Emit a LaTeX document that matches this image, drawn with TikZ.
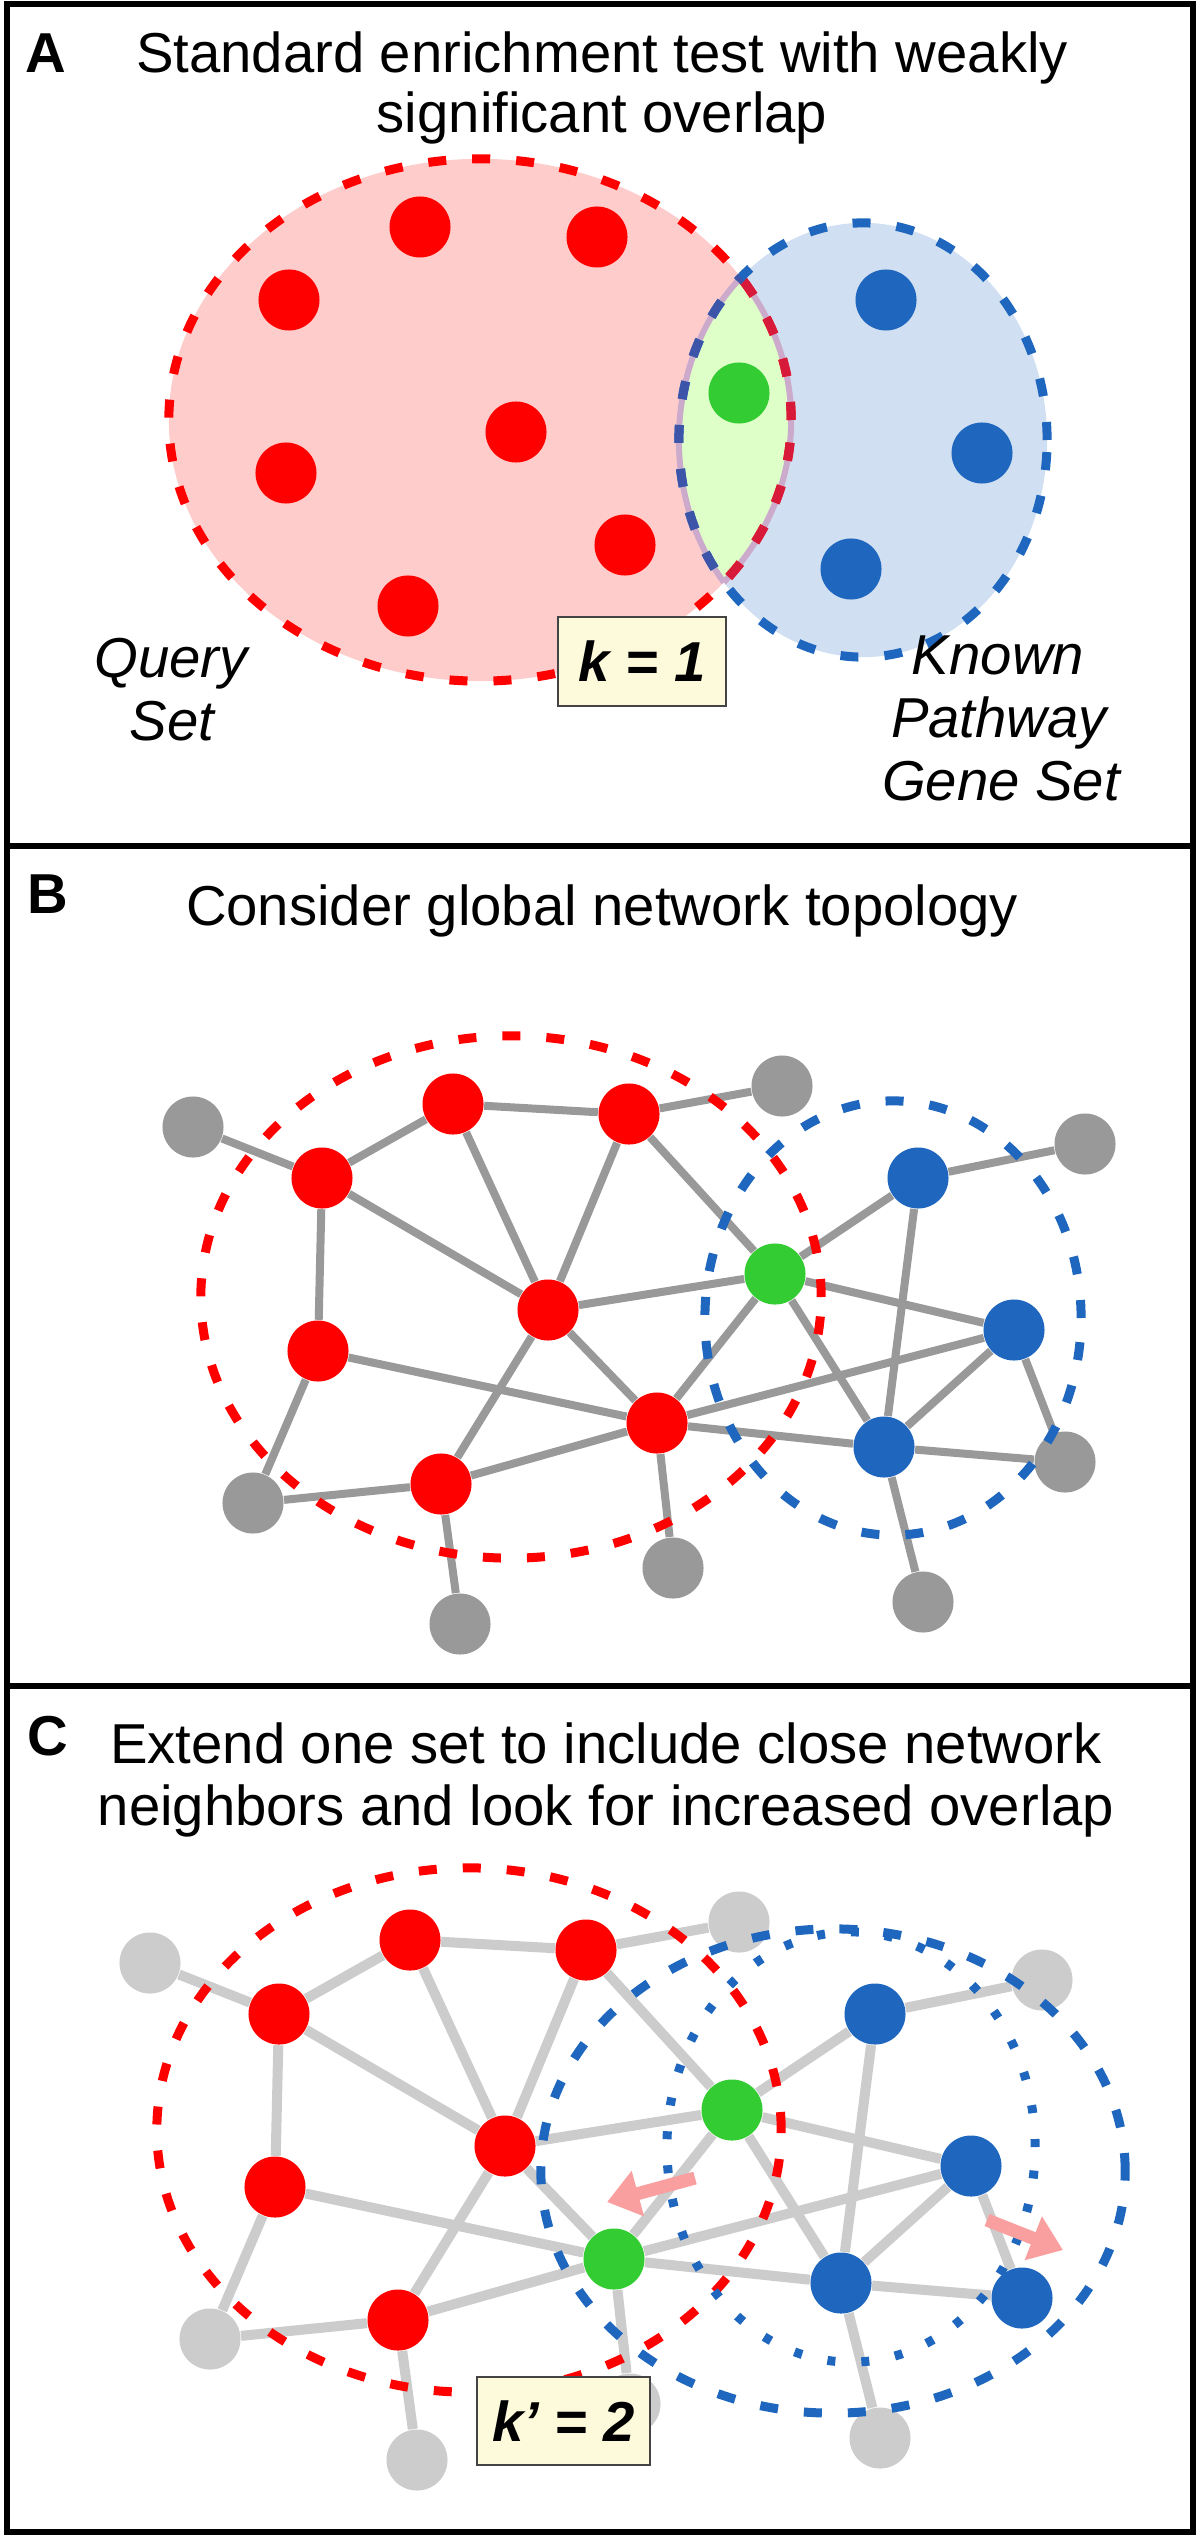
\documentclass[tikz,border=0pt]{standalone}
\usepackage{fontspec}
\setmainfont{Liberation Sans}
\usetikzlibrary{arrows.meta,backgrounds}
\definecolor{cred}{HTML}{FF0000}
\definecolor{cdred}{HTML}{D81A3A}
\definecolor{cblue}{HTML}{1F66BE}
\definecolor{cdblue}{HTML}{3C55A8}
\definecolor{cgreen}{HTML}{33CC33}
\definecolor{cgrayB}{HTML}{999999}
\definecolor{cgrayC}{HTML}{CCCCCC}
\definecolor{cpink}{HTML}{FFCCCC}
\definecolor{cbfill}{HTML}{D0E0F2}
\definecolor{clens}{HTML}{DEFFC8}
\definecolor{cmauve}{HTML}{CCAACC}
\definecolor{cbox}{HTML}{FDFADC}
\definecolor{cboxline}{HTML}{444444}
\definecolor{carrow}{HTML}{FA9F9F}
\begin{document}
\begin{tikzpicture}[x=0.01cm,y=-0.01cm,
  dot/.style={circle,inner sep=0pt,minimum size=0.61cm,draw=none},
  rdot/.style={dot,fill=cred},
  bdot/.style={dot,fill=cblue},
  gdot/.style={dot,fill=cgreen},
  kdot/.style={dot,fill=cgrayB},
  ldot/.style={dot,fill=cgrayC},
  edgeB/.style={draw=cgrayB,line width=0.08cm},
  edgeC/.style={draw=cgrayC,line width=0.1cm},
  dashline/.style={line width=0.09cm,dash pattern=on 0.18cm off 0.26cm},
  dotline/.style={line width=0.09cm,dash pattern=on 0.08cm off 0.26cm},
  frame/.style={draw=black,line width=0.06cm},
  ttl/.style={font=\fontsize{16}{19}\selectfont,anchor=base,inner sep=0pt},
  lab/.style={font=\fontsize{16}{19}\selectfont\itshape,anchor=base,inner sep=0pt},
  letA/.style={font=\fontsize{16}{19}\selectfont\bfseries,anchor=base west,inner sep=0pt},
  kbox/.style={draw=cboxline,fill=cbox,line width=0.02cm,inner sep=0pt,
    font=\fontsize{16}{19}\selectfont\bfseries\itshape},
  parrow/.style={draw=carrow,line width=0.13cm,-{Triangle[length=0.32cm,width=0.45cm]}},
]
\useasboundingbox (0,0) rectangle (1200,2537);
\begin{scope}[on background layer]
\fill[white] (0,0) rectangle (1200,2537);
\end{scope}

% frames
\draw[frame] (7,4) rectangle (1193,2532);
\draw[frame] (7,846) -- (1193,846);
\draw[frame] (7,1686) -- (1193,1686);

% ---------------- Panel A ----------------
\node[letA] (LA) at (25,73) {A};
\node[ttl] (TA1) at (602,73) {Standard enrichment test with weakly};
\node[ttl] (TA2) at (602,133) {significant overlap};

\fill[cpink] (480,420) ellipse [x radius=3.11cm, y radius=2.61cm];
\fill[cbfill] (863,440) ellipse [x radius=1.84cm, y radius=2.17cm];
\begin{scope}
  \clip (480,420) ellipse [x radius=3.11cm, y radius=2.61cm];
  \fill[clens] (863,440) ellipse [x radius=1.84cm, y radius=2.17cm];
  \draw[cmauve,line width=0.06cm] (863,440) ellipse [x radius=1.84cm, y radius=2.17cm];
\end{scope}
\begin{scope}
  \clip (863,440) ellipse [x radius=1.84cm, y radius=2.17cm];
  \draw[cmauve,line width=0.06cm] (480,420) ellipse [x radius=3.11cm, y radius=2.61cm];
\end{scope}
\draw[dashline,cred] (480,420) ellipse [x radius=3.11cm, y radius=2.61cm];
\begin{scope}
  \clip (863,440) ellipse [x radius=1.84cm, y radius=2.17cm];
  \draw[dashline,cdred] (480,420) ellipse [x radius=3.11cm, y radius=2.61cm];
\end{scope}
\draw[dashline,cblue] (863,440) ellipse [x radius=1.84cm, y radius=2.17cm];
\begin{scope}
  \clip (480,420) ellipse [x radius=3.11cm, y radius=2.61cm];
  \draw[dashline,cdblue] (863,440) ellipse [x radius=1.84cm, y radius=2.17cm];
\end{scope}

\foreach \n/\px/\py/\s in {a1/420/227/rdot, a2/597/237/rdot, a3/289/300/rdot,
   a4/516/432/rdot, a5/286/473/rdot, a6/625/545/rdot, a7/408/606/rdot,
   ag/739/393/gdot, ab1/886/300/bdot, ab2/982/453/bdot, ab3/851/569/bdot}
  \node[\s] (\n) at (\px,\py) {};

\node[kbox,minimum width=1.68cm,minimum height=0.89cm] (k1) at (642,661.5) {k = 1};

\node[lab] (q1) at (171,677) {Query};
\node[lab] (q2) at (172,740) {Set};
\node[lab] (p1) at (998,674) {Known};
\node[lab] (p2) at (999,737) {Pathway};
\node[lab] (p3) at (1001,800) {Gene Set};

% ---------------- Panel B ----------------
\node[letA] (LB) at (27,913) {B};
\node[ttl] (TB) at (602,925) {Consider global network topology};

\foreach \n/\px/\py/\s in {g1/193/1127/kdot, r1/322/1178/rdot, r2/453/1104/rdot,
   r3/629/1114/rdot, g2/782/1086/kdot, r4/318/1351/rdot, r5/548/1310/rdot,
   G/775/1274/gdot, b1/918/1178/bdot, g3/1085/1144/kdot, b2/1014/1330/bdot,
   r6/657/1423/rdot, b3/884/1447/bdot, g4/1065/1462/kdot, r7/441/1484/rdot,
   g5/253/1503/kdot, g6/673/1568/kdot, g7/923/1602/kdot, g8/460/1624/kdot}
  \node[\s] (B\n) at (\px,\py) {};

\begin{scope}[on background layer]
\foreach \a/\b in {g1/r1, r1/r2, r2/r3, r3/g2, r1/r4, r1/r5, r2/r5, r3/r5, r3/G,
   r5/G, r4/r6, r4/g5, g5/r7, r7/r5, r5/r6, r7/r6, r7/g8, r6/G, r6/b2, r6/b3,
   r6/g6, G/b1, G/b2, G/b3, b1/g3, b1/b3, b2/b3, b2/g4, b3/g4, b3/g7}
  \draw[edgeB] (B\a) -- (B\b);
\end{scope}

\draw[dashline,cred] (511,1297) ellipse [x radius=3.10cm, y radius=2.61cm];
\draw[dashline,cblue] (893,1318) ellipse [x radius=1.88cm, y radius=2.17cm];

% ---------------- Panel C ----------------
\node[letA] (LC) at (27,1755) {C};
\node[ttl] (TC1) at (606,1763) {Extend one set to include close network};
\node[ttl] (TC2) at (606,1825) {neighbors and look for increased overlap};

\begin{scope}[shift={(-43,836)}]
\foreach \n/\px/\py/\s in {g1/193/1127/ldot, r1/322/1178/rdot, r2/453/1104/rdot,
   r3/629/1114/rdot, g2/782/1086/ldot, r4/318/1351/rdot, r5/548/1310/rdot,
   G/775/1274/gdot, b1/918/1178/bdot, g3/1085/1144/ldot, b2/1014/1330/bdot,
   r6/657/1423/gdot, b3/884/1447/bdot, g4/1065/1462/bdot, r7/441/1484/rdot,
   g5/253/1503/ldot, g6/673/1568/ldot, g7/923/1602/ldot, g8/460/1624/ldot}
  \node[\s] (C\n) at (\px,\py) {};
\end{scope}

\begin{scope}[on background layer]
\foreach \a/\b in {g1/r1, r1/r2, r2/r3, r3/g2, r1/r4, r1/r5, r2/r5, r3/r5, r3/G,
   r5/G, r4/r6, r4/g5, g5/r7, r7/r5, r5/r6, r7/r6, r7/g8, r6/G, r6/b2, r6/b3,
   r6/g6, G/b1, G/b2, G/b3, b1/g3, b1/b3, b2/b3, b2/g4, b3/g4, b3/g7}
  \draw[edgeC] (C\a) -- (C\b);
\end{scope}

\draw[dashline,cred] (469,2130) ellipse [x radius=3.12cm, y radius=2.62cm];
\draw[dotline,cblue] (851,2147) ellipse [x radius=1.84cm, y radius=2.15cm];
\draw[dashline,cblue] (833,2171) ellipse [x radius=2.92cm, y radius=2.42cm];

\coordinate (a1t) at (695,2178);
\coordinate (a1h) at (607,2202);
\coordinate (a2t) at (987,2220);
\coordinate (a2h) at (1063,2250);
\draw[parrow] (a1t) -- (a1h);
\draw[parrow] (a2t) -- (a2h);

\node[kbox,minimum width=1.73cm,minimum height=0.88cm] (k2) at (563.5,2421) {k’ = 2};
\end{tikzpicture}
\end{document}
